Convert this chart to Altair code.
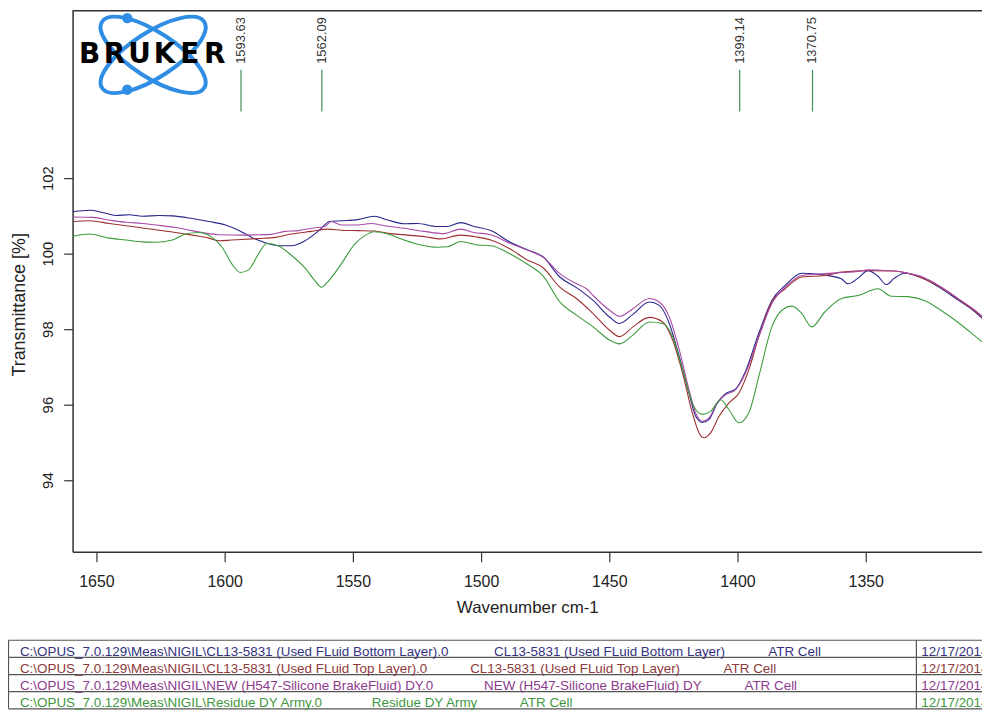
import altair as alt
import pandas as pd

# ---------------- data ----------------
SERIES = [
    "CL13-5831 (Used FLuid Bottom Layer)",
    "CL13-5831 (Used FLuid Top Layer)",
    "NEW  (H547-Silicone BrakeFluid) DY",
    "Residue DY Army",
]
LINE_COLORS = ["#26268c", "#9e2f2f", "#a84aa8", "#3c9c3c"]
TEXT_COLORS = ["#33337f", "#8e3a3a", "#8e3a8e", "#3f973f"]

WN_BOTTOM = [1659.2, 1652.7, 1647.6, 1642.4, 1637.2, 1632.1, 1625.6, 1620.4, 1612.7, 1606.2, 1599.7, 1594.6,
             1589.4, 1584.2, 1579.1, 1573.9, 1568.7, 1563.6, 1559.0, 1554.5, 1548.1, 1541.6, 1536.4, 1530.0,
             1524.8, 1517.1, 1513.2, 1508.0, 1502.8, 1496.2, 1488.6, 1482.2, 1475.7, 1469.3, 1462.8, 1456.3,
             1449.9, 1446.0, 1440.8, 1434.4, 1430.5, 1426.6, 1422.7, 1418.9, 1416.3, 1413.7, 1411.1, 1407.9,
             1404.7, 1400.8, 1396.9, 1391.7, 1386.6, 1381.4, 1374.9, 1365.9, 1359.4, 1356.9, 1353.0, 1349.1,
             1345.2, 1342.0, 1338.8, 1334.9, 1327.1, 1320.7, 1314.2, 1307.8, 1303.9]
T_BOTTOM = [101.11, 101.15, 101.09, 101.01, 101.03, 100.99, 101.01, 101.00, 100.93, 100.85, 100.76, 100.62,
            100.43, 100.29, 100.21, 100.21, 100.34, 100.59, 100.85, 100.87, 100.90, 100.99, 100.89, 100.79,
            100.80, 100.72, 100.72, 100.82, 100.72, 100.61, 100.30, 100.11, 99.91, 99.38, 99.10, 98.76,
            98.32, 98.15, 98.39, 98.72, 98.63, 98.15, 97.27, 96.30, 95.69, 95.53, 95.61, 96.04,
            96.29, 96.41, 96.88, 97.89, 98.76, 99.16, 99.48, 99.43, 99.33, 99.20, 99.35, 99.55,
            99.40, 99.18, 99.35, 99.48, 99.33, 99.08, 98.78, 98.48, 98.25]

WN_TOP = [1659.2, 1652.7, 1645.0, 1638.5, 1632.1, 1625.6, 1619.1, 1612.7, 1606.2, 1602.3, 1597.2, 1586.8,
          1580.3, 1573.9, 1566.2, 1559.7, 1554.5, 1548.1, 1541.6, 1535.2, 1528.7, 1522.2, 1515.8, 1508.0,
          1501.6, 1496.2, 1488.6, 1482.2, 1475.7, 1469.3, 1462.8, 1456.3, 1449.9, 1446.0, 1440.8, 1434.4,
          1429.2, 1425.3, 1421.4, 1417.6, 1415.0, 1413.1, 1410.5, 1407.2, 1403.4, 1399.5, 1395.6, 1391.7,
          1386.6, 1381.4, 1374.9, 1365.9, 1359.4, 1349.1, 1338.8, 1333.6, 1327.1, 1320.7, 1314.2, 1307.8,
          1303.9]
T_TOP = [100.85, 100.87, 100.80, 100.74, 100.68, 100.62, 100.56, 100.49, 100.41, 100.34, 100.36, 100.40,
         100.43, 100.52, 100.59, 100.65, 100.62, 100.61, 100.60, 100.53, 100.49, 100.45, 100.39, 100.49,
         100.44, 100.36, 100.12, 99.84, 99.62, 99.11, 98.81, 98.41, 97.97, 97.80, 98.06, 98.31,
         98.19, 97.71, 96.83, 95.78, 95.25, 95.12, 95.25, 95.69, 96.04, 96.30, 96.92, 97.80,
         98.72, 99.07, 99.38, 99.42, 99.51, 99.55, 99.54, 99.48, 99.33, 99.11, 98.81, 98.50,
         98.28]

WN_NEW = [1659.2, 1651.4, 1645.0, 1638.5, 1632.1, 1625.6, 1619.1, 1612.7, 1606.2, 1602.3, 1593.3, 1586.8,
          1581.7, 1576.5, 1571.3, 1566.2, 1561.0, 1558.4, 1554.5, 1548.1, 1542.9, 1537.7, 1530.0, 1522.2,
          1514.5, 1508.0, 1502.8, 1496.2, 1488.6, 1482.2, 1475.7, 1469.3, 1462.8, 1458.9, 1456.3, 1449.9,
          1446.0, 1440.8, 1434.4, 1430.5, 1426.6, 1422.7, 1418.9, 1416.3, 1413.7, 1411.1, 1407.9, 1404.7,
          1400.8, 1396.9, 1391.7, 1386.6, 1381.4, 1374.9, 1365.9, 1359.4, 1353.0, 1349.1, 1342.0, 1338.8,
          1334.9, 1327.1, 1320.7, 1314.2, 1307.8, 1303.9]
T_NEW = [100.97, 100.96, 100.89, 100.83, 100.80, 100.75, 100.69, 100.61, 100.53, 100.50, 100.49, 100.50,
         100.51, 100.59, 100.61, 100.67, 100.72, 100.85, 100.76, 100.76, 100.80, 100.74, 100.67, 100.59,
         100.53, 100.65, 100.56, 100.50, 100.27, 100.10, 99.90, 99.47, 99.20, 99.07, 98.89, 98.50,
         98.34, 98.54, 98.81, 98.72, 98.32, 97.45, 96.39, 95.78, 95.56, 95.65, 96.04, 96.26,
         96.39, 96.83, 97.80, 98.68, 99.11, 99.42, 99.47, 99.50, 99.53, 99.57, 99.55, 99.54,
         99.50, 99.36, 99.12, 98.82, 98.52, 98.30]

WN_RESIDUE = [1659.2, 1652.7, 1645.0, 1638.5, 1632.1, 1626.9, 1620.4, 1615.2, 1610.1, 1604.9, 1601.0, 1597.2,
              1593.9, 1590.7, 1586.8, 1583.6, 1579.1, 1573.9, 1568.7, 1564.9, 1562.3, 1559.7, 1554.5, 1549.3,
              1545.5, 1541.6, 1536.4, 1530.0, 1523.5, 1517.1, 1513.2, 1508.0, 1501.6, 1496.2, 1488.6, 1482.2,
              1475.7, 1469.3, 1462.8, 1456.3, 1449.9, 1446.0, 1440.8, 1434.4, 1429.2, 1425.3, 1421.4, 1417.6,
              1413.7, 1410.5, 1406.6, 1403.4, 1399.5, 1395.6, 1391.7, 1386.6, 1382.7, 1378.8, 1374.9, 1371.0,
              1365.9, 1359.4, 1353.0, 1345.2, 1340.0, 1333.6, 1327.1, 1320.7, 1314.2, 1307.8, 1303.9]
T_RESIDUE = [100.46, 100.52, 100.41, 100.36, 100.31, 100.30, 100.36, 100.52, 100.56, 100.43, 100.17, 99.73,
             99.50, 99.57, 99.99, 100.27, 100.21, 99.95, 99.62, 99.29, 99.11, 99.26, 99.73, 100.25,
             100.47, 100.58, 100.52, 100.36, 100.23, 100.17, 100.18, 100.32, 100.23, 100.21, 99.99, 99.73,
             99.40, 98.72, 98.37, 98.06, 97.71, 97.61, 97.84, 98.19, 98.15, 97.80, 96.92, 96.04,
             95.74, 95.82, 96.13, 95.87, 95.52, 95.78, 96.74, 98.06, 98.50, 98.61, 98.41, 98.06,
             98.46, 98.81, 98.89, 99.07, 98.87, 98.86, 98.76, 98.50, 98.19, 97.84, 97.62]

PEAKS = [1593.63, 1562.09, 1399.14, 1370.75]
PEAK_LABELS = ["1593.63", "1562.09", "1399.14", "1370.75"]

X_TICKS = [1650, 1600, 1550, 1500, 1450, 1400, 1350]
Y_TICKS = [94, 96, 98, 100, 102]

TABLE_PATHS = [
    "C:\\OPUS_7.0.129\\Meas\\NIGIL\\CL13-5831 (Used FLuid Bottom Layer).0",
    "C:\\OPUS_7.0.129\\Meas\\NIGIL\\CL13-5831 (Used FLuid Top Layer).0",
    "C:\\OPUS_7.0.129\\Meas\\NIGIL\\NEW  (H547-Silicone BrakeFluid) DY.0",
    "C:\\OPUS_7.0.129\\Meas\\NIGIL\\Residue DY Army.0",
]
TABLE_CELL = ["ATR Cell", "ATR Cell", "ATR Cell", "ATR Cell"]
TABLE_DATE = ["12/17/2014", "12/17/2014", "12/17/2014", "12/17/2014"]
LOGO_LETTERS = ["B", "R", "U", "K", "E", "R"]

# ---------------- build table ----------------
frames = []
for name, wn, tr in [(SERIES[0], WN_BOTTOM, T_BOTTOM), (SERIES[1], WN_TOP, T_TOP),
                     (SERIES[2], WN_NEW, T_NEW), (SERIES[3], WN_RESIDUE, T_RESIDUE)]:
    assert len(wn) == len(tr)
    frames.append(pd.DataFrame({"series": name, "wn": wn, "t": tr, "idx": range(len(wn))}))
spectra = pd.concat(frames, ignore_index=True)
peaks = pd.DataFrame({"wn": PEAKS, "label": PEAK_LABELS})
dummy = pd.DataFrame({"a": [0]})

W, H = 915, 545
FONT = "Liberation Sans"
xscale = alt.Scale(domain=[1304.65, 1659.3], reverse=True, nice=False, zero=False)
yscale = alt.Scale(domain=[92.1, 106.45], nice=False, zero=False)

x_axis = alt.Axis(
    values=X_TICKS, format="d", tickSize=10, tickColor="#333", tickWidth=1.2,
    domainColor="#333", domainWidth=1.5, labelFont=FONT, labelFontSize=16, labelColor="#222",
    labelPadding=12, grid=False, title="Wavenumber cm-1", titleFont=FONT, titleFontSize=17,
    titleFontWeight="normal", titleColor="#222", titlePadding=10)

lines = alt.Chart(spectra).mark_line(strokeWidth=1.1, interpolate="monotone", clip=True).encode(
    x=alt.X("wn:Q", scale=xscale, axis=x_axis),
    y=alt.Y("t:Q", scale=yscale, axis=alt.Axis(
        values=Y_TICKS, tickSize=9, tickColor="#333", tickWidth=1.2, domainColor="#333", domainWidth=1.5,
        labelFont=FONT, labelFontSize=15, labelColor="#222", labelAngle=270, labelAlign="center",
        labelBaseline="bottom", labelPadding=8, grid=False, title="Transmittance [%]", titleFont=FONT,
        titleFontSize=18, titleFontWeight="normal", titleColor="#222", titleAngle=270,
        titleAlign="center", titleBaseline="alphabetic", titleX=-48, titleY=296)),
    color=alt.Color("series:N", scale=alt.Scale(domain=SERIES, range=LINE_COLORS), legend=None),
    order=alt.Order("idx:Q"),
)

top_frame = alt.Chart(dummy).mark_rule(color="#333", strokeWidth=1.5).encode(
    x=alt.value(0), x2=alt.value(W), y=alt.value(0.5))

peak_rules = alt.Chart(peaks).mark_rule(color="#3f8f4f", strokeWidth=1.2).encode(
    x=alt.X("wn:Q", scale=xscale, axis=x_axis), y=alt.value(60), y2=alt.value(102))
peak_text = alt.Chart(peaks).mark_text(angle=270, align="left", baseline="middle", font=FONT,
                                       fontSize=13, color="#333").encode(
    x=alt.X("wn:Q", scale=xscale, axis=x_axis), y=alt.value(54), text="label:N")

# logo
LOGO_BLUE = "#2f8de4"
ELLIPSE = "M-1,0A1,0.37,0,1,1,1,0A1,0.37,0,1,1,-1,0Z"
logo = []
for ang in (33, 327):
    logo.append(alt.Chart(dummy).mark_point(shape=ELLIPSE, size=15000, filled=False, stroke=LOGO_BLUE,
                                            strokeWidth=4, angle=ang, opacity=1).encode(
        x=alt.value(81), y=alt.value(45)))
for yy in (8, 80):
    logo.append(alt.Chart(dummy).mark_point(shape="circle", size=110, filled=True, color=LOGO_BLUE,
                                            opacity=1).encode(x=alt.value(55), y=alt.value(yy)))
for i, ch in enumerate(LOGO_LETTERS):
    logo.append(alt.Chart(dummy).mark_text(font="DejaVu Sans", fontWeight="bold", fontSize=28,
                                           color="black", baseline="middle", align="center").encode(
        x=alt.value(17 + 25.2 * i), y=alt.value(45), text=alt.value(ch)))

# table at the bottom
table = []
row_lines = [634, 651.25, 668.5, 685.75, 703]
for yy in row_lines:
    table.append(alt.Chart(dummy).mark_rule(color="#555", strokeWidth=1.2).encode(
        x=alt.value(-64.5), x2=alt.value(W), y=alt.value(yy)))
for xx in (-64.5, 849):
    table.append(alt.Chart(dummy).mark_rule(color="#555", strokeWidth=1.2).encode(
        x=alt.value(xx), y=alt.value(row_lines[0]), y2=alt.value(row_lines[-1])))
col2_x = [424, 400, 414, 301]
col3_x = [700, 655, 676, 450]
for r in range(4):
    yc = (row_lines[r] + row_lines[r + 1]) / 2 + 3
    for xx, txt in ((-53, TABLE_PATHS[r]), (col2_x[r], SERIES[r]), (col3_x[r], TABLE_CELL[r]),
                    (854, TABLE_DATE[r])):
        table.append(alt.Chart(dummy).mark_text(font=FONT, fontSize=13.5, color=TEXT_COLORS[r],
                                                align="left", baseline="middle").encode(
            x=alt.value(xx), y=alt.value(yc), text=alt.value(txt)))

chart = alt.layer(lines, top_frame, peak_rules, peak_text, *logo, *table).properties(
    width=W, height=H,
    autosize=alt.AutoSizeParams(type="none"),
    padding={"left": 65, "top": 0, "right": 0, "bottom": 159},
).configure_view(stroke=None).configure(background="white")

chart.save("out.html", embed_options={"renderer": "svg", "actions": False})
